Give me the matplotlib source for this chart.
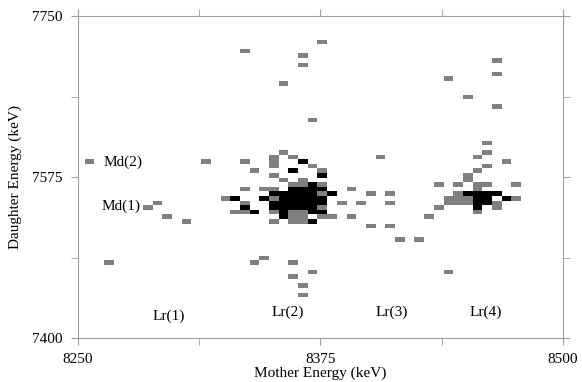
import numpy as np
import matplotlib
matplotlib.use("Agg")
import matplotlib.pyplot as plt
from matplotlib.colors import ListedColormap

plt.rcParams['font.family'] = ['Liberation Serif', 'DejaVu Serif']

# gray cells (1 count): mother energy, daughter energy (keV, bin centres)
gray_mother = [8336, 8376, 8366, 8366, 8356, 8371, 8441, 8466, 8466, 8451, 8466, 8461,
               8256, 8316, 8286, 8291, 8296, 8306, 8266,
               8341, 8346, 8361, 8361, 8371, 8366, 8366, 8441,
               8406, 8391, 8401, 8411, 8386, 8396, 8411, 8391, 8401, 8411, 8416, 8426, 8431,
               8461, 8456, 8471, 8461, 8456, 8451, 8451, 8436, 8446, 8456, 8461, 8476,
               8456, 8446, 8441, 8446, 8451, 8476, 8441, 8446, 8451, 8466, 8436, 8466, 8456,
               8356, 8351, 8361, 8336, 8351, 8351, 8371, 8341, 8376, 8351, 8356, 8366,
               8361, 8366, 8376, 8336, 8346, 8351, 8376, 8326, 8351, 8336, 8376,
               8331, 8336, 8351, 8361, 8366, 8361, 8366, 8376, 8381, 8351, 8361, 8366]
gray_daughter = [7712, 7722, 7707, 7697, 7677, 7637, 7682, 7702, 7687, 7662, 7652, 7612,
                 7592, 7592, 7542, 7547, 7532, 7527, 7482,
                 7482, 7487, 7482, 7467, 7472, 7457, 7447, 7472,
                 7597, 7562, 7557, 7557, 7547, 7547, 7547, 7532, 7522, 7522, 7507, 7507, 7532,
                 7602, 7597, 7592, 7587, 7582, 7577, 7572, 7567, 7567, 7567, 7567, 7567,
                 7562, 7557, 7552, 7552, 7552, 7552, 7547, 7547, 7547, 7547, 7542, 7542, 7537,
                 7602, 7597, 7597, 7592, 7592, 7587, 7587, 7582, 7582, 7577, 7572, 7572,
                 7567, 7567, 7567, 7562, 7562, 7562, 7557, 7552, 7552, 7547, 7542,
                 7537, 7537, 7537, 7537, 7537, 7532, 7532, 7532, 7532, 7527, 7527, 7527]

# black cells (2+ counts)
black_mother = [8451, 8456, 8461, 8466, 8456, 8461, 8471, 8456, 8461, 8456,
                8366, 8361, 8376, 8371, 8361, 8366, 8371, 8376,
                8351, 8356, 8361, 8366, 8371, 8381,
                8331, 8346, 8356, 8361, 8366, 8371, 8376,
                8351, 8356, 8361, 8366, 8371, 8376,
                8336, 8351, 8356, 8361, 8366, 8371,
                8341, 8356, 8371, 8376, 8356, 8371]
black_daughter = [7557, 7557, 7557, 7557, 7552, 7552, 7552, 7547, 7547, 7542,
                  7592, 7582, 7577, 7567, 7562, 7562, 7562, 7562,
                  7557, 7557, 7557, 7557, 7557, 7557,
                  7552, 7552, 7552, 7552, 7552, 7552, 7552,
                  7547, 7547, 7547, 7547, 7547, 7547,
                  7542, 7542, 7542, 7542, 7542, 7542,
                  7537, 7537, 7537, 7537, 7532, 7527]

labels = ['Md(2)', 'Md(1)', 'Lr(1)', 'Lr(2)', 'Lr(3)', 'Lr(4)']
label_x = [8263, 8262, 8297, 8358, 8412, 8460]
label_y = [7591, 7543, 7424, 7428, 7428, 7428]
label_ha = ['left', 'left', 'center', 'center', 'center', 'center']

mother = np.array(gray_mother + black_mother)
daughter = np.array(gray_daughter + black_daughter)
level = np.array([1] * len(gray_mother) + [2] * len(black_mother))

xedges = np.arange(8248.5, 8505, 5)
yedges = np.arange(7394.5, 7755, 5)

fig = plt.figure(figsize=(5.82, 3.82), dpi=100)
ax = fig.add_axes([0.134, 0.115, 0.833, 0.843])

ax.hist2d(mother, daughter, bins=[xedges, yedges], weights=level,
          cmap=ListedColormap(['#808080', '#000000']), vmin=0.5, vmax=2.5, cmin=0.5)

for t, x, y, ha in zip(labels, label_x, label_y, label_ha):
    ax.text(x, y, t, ha=ha, va='center', fontsize=11)

ax.set_xlim(8250, 8500)
ax.set_ylim(7400, 7750)
ax.set_xticks([8250, 8375, 8500])
ax.set_xticks([8312.5, 8437.5], minor=True)
ax.set_yticks([7400, 7575, 7750])
ax.set_yticks([7487.5, 7662.5], minor=True)
ax.tick_params(which='both', direction='out', length=5, color='#a0a0a0',
               top=True, right=True, labelsize=11, pad=6)
for s in ax.spines.values():
    s.set_color('#a0a0a0')
ax.set_xlabel('Mother Energy (keV)', fontsize=11, labelpad=0)
ax.set_ylabel('Daughter Energy (keV)', fontsize=11, labelpad=7)

fig.savefig('out.png', dpi=100)
